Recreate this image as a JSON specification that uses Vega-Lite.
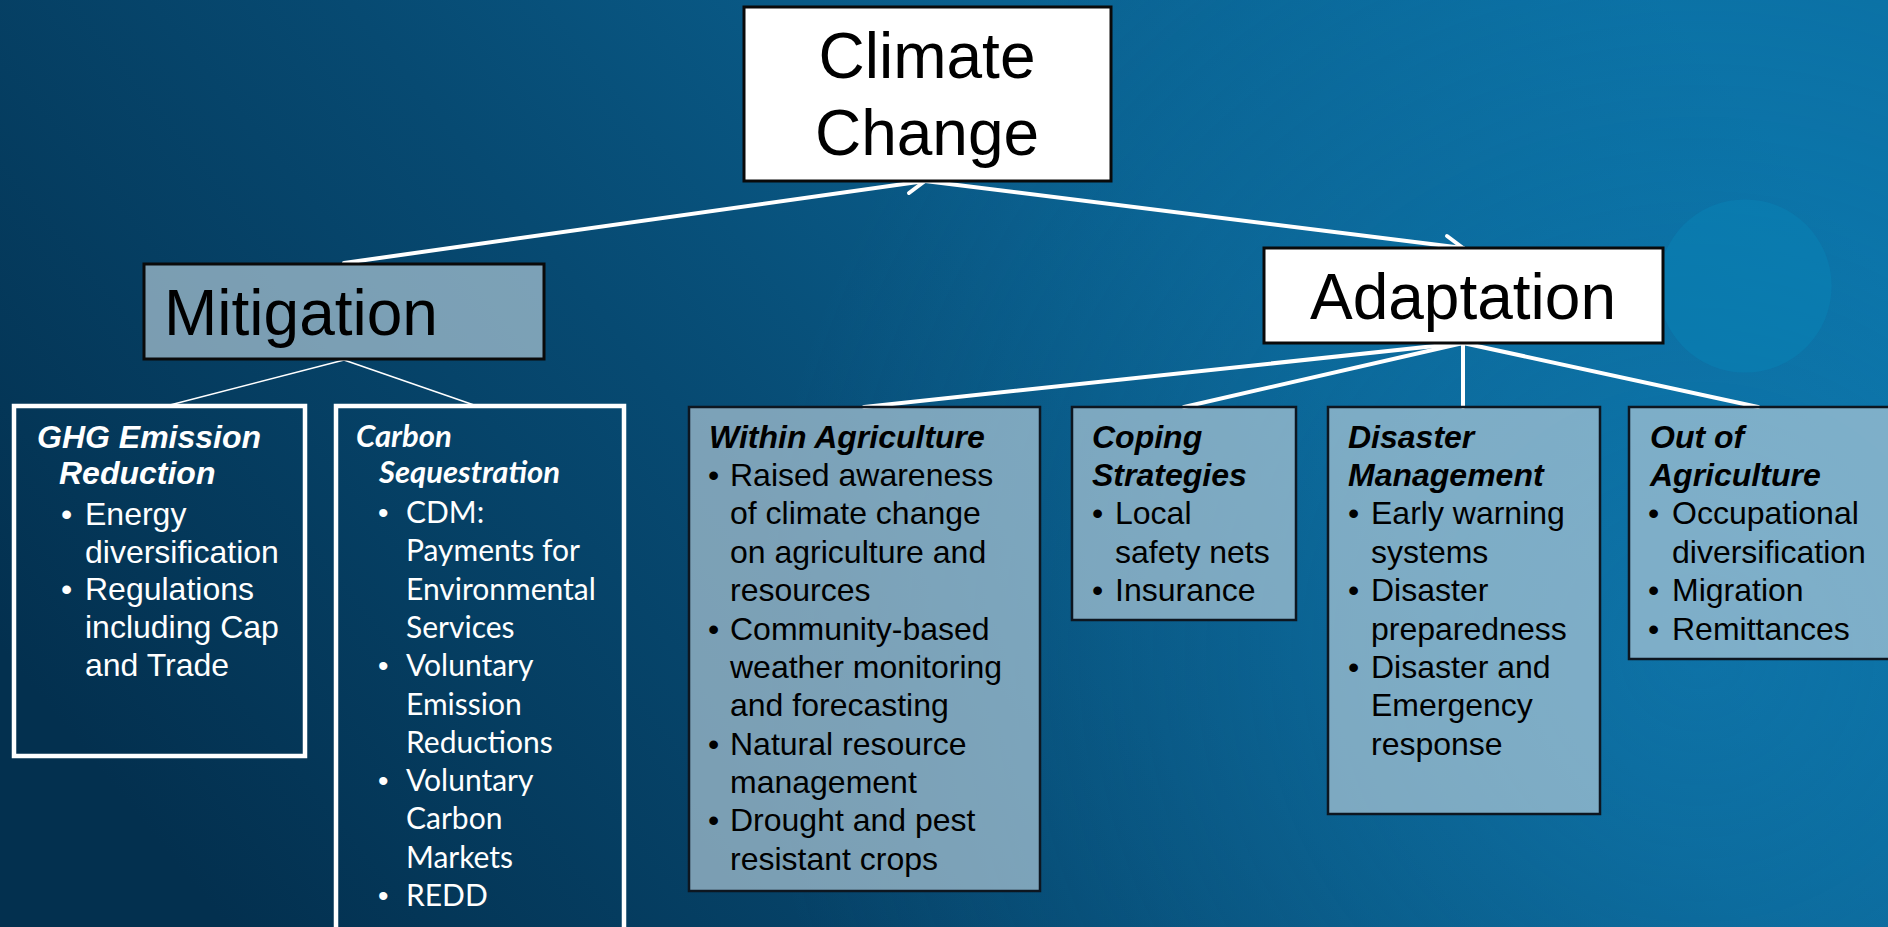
{
  "$schema": "https://vega.github.io/schema/vega-lite/v6.json",
  "width": 1888,
  "height": 927,
  "autosize": {"type": "fit", "contains": "padding"},
  "padding": 0,
  "background": "#053d5e",
  "config": {"view": {"stroke": null}},
  "datasets": {
    "bg": [{"x": 0, "y": 0, "x2": 1888, "y2": 927}],
    "circ": [{"x": 1745, "y": 286}],
    "links": [
      {"x": 344, "y": 263, "x2": 925, "y2": 181, "kind": "main"},
      {"x": 925, "y": 181, "x2": 1463, "y2": 248, "kind": "main"},
      {"x": 925, "y": 181, "x2": 909, "y2": 193, "kind": "main"},
      {"x": 925, "y": 181, "x2": 906, "y2": 174, "kind": "main"},
      {"x": 1463, "y": 248, "x2": 1447, "y2": 236, "kind": "main"},
      {"x": 1463, "y": 248, "x2": 1445, "y2": 256, "kind": "main"},
      {"x": 1463, "y": 343, "x2": 864, "y2": 407, "kind": "main"},
      {"x": 1463, "y": 343, "x2": 1184, "y2": 407, "kind": "main"},
      {"x": 1463, "y": 343, "x2": 1463, "y2": 407, "kind": "main"},
      {"x": 1463, "y": 343, "x2": 1758, "y2": 407, "kind": "main"},
      {"x": 344, "y": 360, "x2": 170, "y2": 405, "kind": "minor"},
      {"x": 344, "y": 360, "x2": 474, "y2": 405, "kind": "minor"}
    ],
    "boxes": [
      {"x": 744, "y": 7, "x2": 1111, "y2": 181, "kind": "white"},
      {"x": 1264, "y": 248, "x2": 1663, "y2": 343, "kind": "white"},
      {"x": 144, "y": 264, "x2": 544, "y2": 359, "kind": "mit"},
      {"x": 14, "y": 406, "x2": 305, "y2": 756, "kind": "outline"},
      {"x": 336, "y": 406, "x2": 624, "y2": 945, "kind": "outline"},
      {"x": 689, "y": 407, "x2": 1040, "y2": 891, "kind": "grey"},
      {"x": 1072, "y": 407, "x2": 1296, "y2": 620, "kind": "grey"},
      {"x": 1328, "y": 407, "x2": 1600, "y2": 814, "kind": "grey"},
      {"x": 1629, "y": 407, "x2": 1905, "y2": 659, "kind": "grey"}
    ],
    "texts": [
      {"g": "big", "x": 927, "y": 59, "t": "Climate"},
      {"g": "big", "x": 927, "y": 136, "t": "Change"},
      {"g": "big", "x": 1463, "y": 300, "t": "Adaptation"},
      {"g": "bigL", "x": 164, "y": 316, "t": "Mitigation"},

      {"g": "wt", "x": 37, "y": 438, "t": "GHG Emission"},
      {"g": "wt", "x": 59, "y": 474, "t": "Reduction"},
      {"g": "wb", "x": 61, "y": 515, "t": "•"},
      {"g": "wb", "x": 85, "y": 515, "t": "Energy"},
      {"g": "wb", "x": 85, "y": 553, "t": "diversification"},
      {"g": "wb", "x": 61, "y": 590, "t": "•"},
      {"g": "wb", "x": 85, "y": 590, "t": "Regulations"},
      {"g": "wb", "x": 85, "y": 628, "t": "including Cap"},
      {"g": "wb", "x": 85, "y": 666, "t": "and Trade"},

      {"g": "ct", "x": 356, "y": 438, "t": "Carbon"},
      {"g": "ct", "x": 379, "y": 474, "t": "Sequestration"},
      {"g": "cbu", "x": 378, "y": 514, "t": "•"},
      {"g": "cb", "x": 406, "y": 514, "t": "CDM:"},
      {"g": "cb", "x": 406, "y": 552, "t": "Payments for"},
      {"g": "cb", "x": 406, "y": 591, "t": "Environmental"},
      {"g": "cb", "x": 406, "y": 629, "t": "Services"},
      {"g": "cbu", "x": 378, "y": 667, "t": "•"},
      {"g": "cb", "x": 406, "y": 667, "t": "Voluntary"},
      {"g": "cb", "x": 406, "y": 706, "t": "Emission"},
      {"g": "cb", "x": 406, "y": 744, "t": "Reductions"},
      {"g": "cbu", "x": 378, "y": 782, "t": "•"},
      {"g": "cb", "x": 406, "y": 782, "t": "Voluntary"},
      {"g": "cb", "x": 406, "y": 820, "t": "Carbon"},
      {"g": "cb", "x": 406, "y": 859, "t": "Markets"},
      {"g": "cbu", "x": 378, "y": 897, "t": "•"},
      {"g": "cb", "x": 406, "y": 897, "t": "REDD"},

      {"g": "kt", "x": 709, "y": 438, "t": "Within Agriculture"},
      {"g": "kb", "x": 708, "y": 476, "t": "•"},
      {"g": "kb", "x": 730, "y": 476, "t": "Raised awareness"},
      {"g": "kb", "x": 730, "y": 514, "t": "of climate change"},
      {"g": "kb", "x": 730, "y": 553, "t": "on agriculture and"},
      {"g": "kb", "x": 730, "y": 591, "t": "resources"},
      {"g": "kb", "x": 708, "y": 630, "t": "•"},
      {"g": "kb", "x": 730, "y": 630, "t": "Community-based"},
      {"g": "kb", "x": 730, "y": 668, "t": "weather monitoring"},
      {"g": "kb", "x": 730, "y": 706, "t": "and forecasting"},
      {"g": "kb", "x": 708, "y": 745, "t": "•"},
      {"g": "kb", "x": 730, "y": 745, "t": "Natural resource"},
      {"g": "kb", "x": 730, "y": 783, "t": "management"},
      {"g": "kb", "x": 708, "y": 821, "t": "•"},
      {"g": "kb", "x": 730, "y": 821, "t": "Drought and pest"},
      {"g": "kb", "x": 730, "y": 860, "t": "resistant crops"},

      {"g": "kt", "x": 1092, "y": 438, "t": "Coping"},
      {"g": "kt", "x": 1092, "y": 476, "t": "Strategies"},
      {"g": "kb", "x": 1092, "y": 514, "t": "•"},
      {"g": "kb", "x": 1115, "y": 514, "t": "Local"},
      {"g": "kb", "x": 1115, "y": 553, "t": "safety nets"},
      {"g": "kb", "x": 1092, "y": 591, "t": "•"},
      {"g": "kb", "x": 1115, "y": 591, "t": "Insurance"},

      {"g": "kt", "x": 1348, "y": 438, "t": "Disaster"},
      {"g": "kt", "x": 1348, "y": 476, "t": "Management"},
      {"g": "kb", "x": 1348, "y": 514, "t": "•"},
      {"g": "kb", "x": 1371, "y": 514, "t": "Early warning"},
      {"g": "kb", "x": 1371, "y": 553, "t": "systems"},
      {"g": "kb", "x": 1348, "y": 591, "t": "•"},
      {"g": "kb", "x": 1371, "y": 591, "t": "Disaster"},
      {"g": "kb", "x": 1371, "y": 630, "t": "preparedness"},
      {"g": "kb", "x": 1348, "y": 668, "t": "•"},
      {"g": "kb", "x": 1371, "y": 668, "t": "Disaster and"},
      {"g": "kb", "x": 1371, "y": 706, "t": "Emergency"},
      {"g": "kb", "x": 1371, "y": 745, "t": "response"},

      {"g": "kt", "x": 1650, "y": 438, "t": "Out of"},
      {"g": "kt", "x": 1650, "y": 476, "t": "Agriculture"},
      {"g": "kb", "x": 1648, "y": 514, "t": "•"},
      {"g": "kb", "x": 1672, "y": 514, "t": "Occupational"},
      {"g": "kb", "x": 1672, "y": 553, "t": "diversification"},
      {"g": "kb", "x": 1648, "y": 591, "t": "•"},
      {"g": "kb", "x": 1672, "y": 591, "t": "Migration"},
      {"g": "kb", "x": 1648, "y": 630, "t": "•"},
      {"g": "kb", "x": 1672, "y": 630, "t": "Remittances"}
    ]
  },
  "encoding": {
    "x": {"field": "x", "type": "quantitative", "scale": {"domain": [0, 1888], "nice": false, "zero": false}, "axis": null},
    "y": {"field": "y", "type": "quantitative", "scale": {"domain": [0, 927], "nice": false, "zero": false, "reverse": true}, "axis": null}
  },
  "layer": [
    {
      "data": {"name": "bg"},
      "mark": {"type": "rect", "fill": {"gradient": "linear", "x1": 0, "y1": 0.7, "x2": 1, "y2": 0.3, "stops": [
        {"offset": 0, "color": "#03304f"},
        {"offset": 0.4, "color": "#074a72"},
        {"offset": 0.7, "color": "#0a6190"},
        {"offset": 1, "color": "#0a6fa2"}]}},
      "encoding": {"x2": {"field": "x2"}, "y2": {"field": "y2"}}
    },
    {
      "data": {"name": "bg"},
      "mark": {"type": "rect", "fill": {"gradient": "radial", "x1": 0.9, "y1": 0.6, "r1": 0, "x2": 0.9, "y2": 0.6, "r2": 0.5, "stops": [
        {"offset": 0, "color": "rgba(20,140,200,0.35)"},
        {"offset": 1, "color": "rgba(20,140,200,0)"}]}},
      "encoding": {"x2": {"field": "x2"}, "y2": {"field": "y2"}}
    },
    {
      "data": {"name": "circ"},
      "mark": {"type": "point", "shape": "circle", "filled": true, "size": 30000, "color": "#0a82b4", "opacity": 0.55}
    },
    {
      "data": {"name": "links"},
      "transform": [{"filter": "datum.kind == 'main'"}],
      "mark": {"type": "rule", "color": "white", "strokeWidth": 4, "strokeCap": "round"},
      "encoding": {"x2": {"field": "x2"}, "y2": {"field": "y2"}}
    },
    {
      "data": {"name": "links"},
      "transform": [{"filter": "datum.kind == 'minor'"}],
      "mark": {"type": "rule", "color": "white", "strokeWidth": 1.6},
      "encoding": {"x2": {"field": "x2"}, "y2": {"field": "y2"}}
    },
    {
      "data": {"name": "boxes"},
      "transform": [{"filter": "datum.kind == 'white'"}],
      "mark": {"type": "rect", "fill": "white", "stroke": "#0a0a0a", "strokeWidth": 3},
      "encoding": {"x2": {"field": "x2"}, "y2": {"field": "y2"}}
    },
    {
      "data": {"name": "boxes"},
      "transform": [{"filter": "datum.kind == 'mit'"}],
      "mark": {"type": "rect", "fill": "#b4cbd9", "fillOpacity": 0.68, "stroke": "#0a0a0a", "strokeWidth": 3},
      "encoding": {"x2": {"field": "x2"}, "y2": {"field": "y2"}}
    },
    {
      "data": {"name": "boxes"},
      "transform": [{"filter": "datum.kind == 'grey'"}],
      "mark": {"type": "rect", "fill": "#b4cbd9", "fillOpacity": 0.68, "stroke": "#0d1620", "strokeWidth": 2.5, "clip": true},
      "encoding": {"x2": {"field": "x2"}, "y2": {"field": "y2"}}
    },
    {
      "data": {"name": "boxes"},
      "transform": [{"filter": "datum.kind == 'outline'"}],
      "mark": {"type": "rect", "fill": "transparent", "stroke": "white", "strokeWidth": 4.5, "clip": true},
      "encoding": {"x2": {"field": "x2"}, "y2": {"field": "y2"}}
    },
    {
      "data": {"name": "texts"},
      "transform": [{"filter": "datum.g == 'big'"}],
      "mark": {"type": "text", "align": "center", "baseline": "middle", "font": "Liberation Sans", "fontSize": 64, "color": "black"},
      "encoding": {"text": {"field": "t"}}
    },
    {
      "data": {"name": "texts"},
      "transform": [{"filter": "datum.g == 'bigL'"}],
      "mark": {"type": "text", "align": "left", "baseline": "middle", "font": "Liberation Sans", "fontSize": 64, "color": "black"},
      "encoding": {"text": {"field": "t"}}
    },
    {
      "data": {"name": "texts"},
      "transform": [{"filter": "datum.g == 'wt'"}],
      "mark": {"type": "text", "align": "left", "baseline": "middle", "font": "Liberation Sans", "fontSize": 32, "fontWeight": "bold", "fontStyle": "italic", "color": "white"},
      "encoding": {"text": {"field": "t"}}
    },
    {
      "data": {"name": "texts"},
      "transform": [{"filter": "datum.g == 'wb'"}],
      "mark": {"type": "text", "align": "left", "baseline": "middle", "font": "Liberation Sans", "fontSize": 32, "color": "white"},
      "encoding": {"text": {"field": "t"}}
    },
    {
      "data": {"name": "texts"},
      "transform": [{"filter": "datum.g == 'ct'"}],
      "mark": {"type": "text", "align": "left", "baseline": "middle", "font": "Lato", "fontSize": 31, "fontWeight": "bold", "fontStyle": "italic", "color": "white"},
      "encoding": {"text": {"field": "t"}}
    },
    {
      "data": {"name": "texts"},
      "transform": [{"filter": "datum.g == 'cb'"}],
      "mark": {"type": "text", "align": "left", "baseline": "middle", "font": "Lato", "fontSize": 30, "color": "white"},
      "encoding": {"text": {"field": "t"}}
    },
    {
      "data": {"name": "texts"},
      "transform": [{"filter": "datum.g == 'cbu'"}],
      "mark": {"type": "text", "align": "left", "baseline": "middle", "font": "Liberation Sans", "fontSize": 30, "color": "white"},
      "encoding": {"text": {"field": "t"}}
    },
    {
      "data": {"name": "texts"},
      "transform": [{"filter": "datum.g == 'kt'"}],
      "mark": {"type": "text", "align": "left", "baseline": "middle", "font": "Liberation Sans", "fontSize": 32, "fontWeight": "bold", "fontStyle": "italic", "color": "black"},
      "encoding": {"text": {"field": "t"}}
    },
    {
      "data": {"name": "texts"},
      "transform": [{"filter": "datum.g == 'kb'"}],
      "mark": {"type": "text", "align": "left", "baseline": "middle", "font": "Liberation Sans", "fontSize": 32, "color": "black"},
      "encoding": {"text": {"field": "t"}}
    }
  ]
}
